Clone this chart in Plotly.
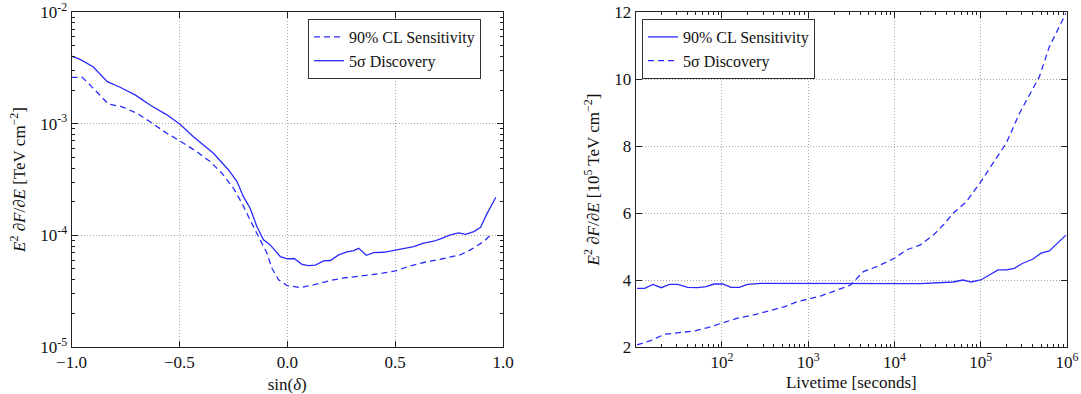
import plotly.graph_objects as go

# ---------------- Left panel: sensitivity vs declination ----------------
sin_dec_disc = [-1.0, -0.96, -0.90, -0.834, -0.775, -0.705, -0.636, -0.558, -0.497, -0.435,
                -0.342, -0.272, -0.233, -0.203, -0.172, -0.141, -0.110, -0.079, -0.032, 0.0,
                0.032, 0.068, 0.099, 0.130, 0.169, 0.200, 0.238, 0.277, 0.308, 0.331, 0.367,
                0.400, 0.447, 0.501, 0.532, 0.586, 0.632, 0.679, 0.710, 0.756, 0.795, 0.826,
                0.865, 0.896, 0.927, 0.967]
disc_5sigma = [4.03e-3, 3.77e-3, 3.24e-3, 2.38e-3, 2.12e-3, 1.81e-3, 1.47e-3, 1.20e-3, 9.9e-4, 7.65e-4,
               5.43e-4, 3.85e-4, 3.03e-4, 2.22e-4, 1.75e-4, 1.20e-4, 9.1e-5, 8.2e-5, 6.45e-5, 6.15e-5,
               6.2e-5, 5.5e-5, 5.35e-5, 5.4e-5, 5.9e-5, 5.95e-5, 6.68e-5, 7.1e-5, 7.3e-5, 7.65e-5, 6.63e-5,
               7.0e-5, 7.05e-5, 7.4e-5, 7.5e-5, 7.93e-5, 8.5e-5, 8.85e-5, 9.3e-5, 1.01e-4, 1.05e-4, 1.02e-4,
               1.08e-4, 1.18e-4, 1.58e-4, 2.19e-4]

sin_dec_sens = [-1.0, -0.95, -0.914, -0.868, -0.829, -0.767, -0.697, -0.636, -0.558, -0.497,
                -0.419, -0.357, -0.303, -0.249, -0.210, -0.172, -0.133, -0.094, -0.071, -0.040,
                0.0, 0.060, 0.122, 0.200, 0.261, 0.323, 0.385, 0.447, 0.501, 0.571, 0.648,
                0.725, 0.803, 0.849, 0.911, 0.950]
sens_90cl = [2.6e-3, 2.6e-3, 2.22e-3, 1.81e-3, 1.5e-3, 1.42e-3, 1.24e-3, 1.04e-3, 8.2e-4, 7.0e-4,
             5.6e-4, 4.57e-4, 3.6e-4, 2.64e-4, 1.94e-4, 1.37e-4, 9.7e-5, 6.9e-5, 5.07e-5, 3.99e-5,
             3.55e-5, 3.4e-5, 3.6e-5, 3.94e-5, 4.15e-5, 4.27e-5, 4.42e-5, 4.6e-5, 4.8e-5, 5.33e-5, 5.8e-5,
             6.2e-5, 6.7e-5, 7.4e-5, 8.8e-5, 1.04e-4]

# ---------------- Right panel: sensitivity vs livetime ----------------
log_livetime_sens = [1.016, 1.104, 1.2, 1.296, 1.392, 1.489, 1.604, 1.72, 1.815, 1.911, 2.008, 2.104,
                     2.2, 2.296, 2.45, 3.142, 3.6, 4.0, 4.3, 4.68, 4.795, 4.89, 5.0, 5.1, 5.2, 5.295,
                     5.39, 5.487, 5.6, 5.7, 5.795, 5.89, 5.987]
sens_livetime = [3.75, 3.75, 3.87, 3.77, 3.87, 3.87, 3.78, 3.77, 3.8, 3.88, 3.88, 3.78,
                 3.78, 3.87, 3.9, 3.9, 3.9, 3.9, 3.89, 3.94, 4.0, 3.94, 4.0, 4.15, 4.3, 4.3,
                 4.35, 4.5, 4.62, 4.8, 4.87, 5.1, 5.34]

log_livetime_disc = [1.016, 1.18, 1.335, 1.489, 1.68, 1.835, 2.008, 2.18, 2.37, 2.565, 2.72, 2.87,
                     3.142, 3.335, 3.49, 3.64, 3.795, 4.0, 4.14, 4.295, 4.45, 4.565, 4.68, 4.834,
                     4.93, 5.0, 5.14, 5.295, 5.45, 5.56, 5.68, 5.795, 5.89, 5.987]
disc_livetime = [2.06, 2.2, 2.38, 2.43, 2.48, 2.58, 2.71, 2.86, 2.96, 3.1, 3.2, 3.35,
                 3.52, 3.70, 3.85, 4.25, 4.4, 4.65, 4.9, 5.04, 5.34, 5.64, 5.99, 6.34,
                 6.69, 6.93, 7.48, 8.08, 8.98, 9.52, 10.07, 10.96, 11.46, 11.96]
livetime_sens = [10 ** v for v in log_livetime_sens]
livetime_disc = [10 ** v for v in log_livetime_disc]

left_ytick_vals = [1e-5, 1e-4, 1e-3, 1e-2]
left_ytick_text = ["10<sup>-5</sup>", "10<sup>-4</sup>", "10<sup>-3</sup>", "10<sup>-2</sup>"]
right_xtick_vals = [1e2, 1e3, 1e4, 1e5, 1e6]
right_xtick_text = ["10<sup>2</sup>", "10<sup>3</sup>", "10<sup>4</sup>", "10<sup>5</sup>", "10<sup>6</sup>"]

FONT = "Liberation Serif"
BLUE = "#2a2aff"
DASH = "6px,4px"

fig = go.Figure()
fig.add_trace(go.Scatter(x=sin_dec_sens, y=sens_90cl, mode="lines", name="90% CL Sensitivity",
                         line=dict(color=BLUE, width=1.3, dash=DASH), xaxis="x", yaxis="y", legend="legend"))
fig.add_trace(go.Scatter(x=sin_dec_disc, y=disc_5sigma, mode="lines", name="5σ Discovery",
                         line=dict(color=BLUE, width=1.3), xaxis="x", yaxis="y", legend="legend"))
fig.add_trace(go.Scatter(x=livetime_sens, y=sens_livetime, mode="lines", name="90% CL Sensitivity",
                         line=dict(color=BLUE, width=1.3), xaxis="x2", yaxis="y2", legend="legend2"))
fig.add_trace(go.Scatter(x=livetime_disc, y=disc_livetime, mode="lines", name="5σ Discovery",
                         line=dict(color=BLUE, width=1.3, dash=DASH), xaxis="x2", yaxis="y2", legend="legend2"))

W, H = 1081, 394
ML, MR, MT, MB = 0, 0, 12, 47
PH = H - MT - MB

def px_x(p):
    return p / W

axis_common = dict(showline=True, linecolor="#222", linewidth=1, mirror="allticks",
                   ticks="inside", ticklen=6, tickcolor="#222", tickwidth=1,
                   showgrid=True, gridcolor="#a8a8a8", griddash="1px,2px", gridwidth=1,
                   zeroline=False, automargin=False, ticklabeloverflow="allow",
                   tickfont=dict(family=FONT, size=17, color="#111"),
                   title_font=dict(family=FONT, size=17, color="#111"))

fig.update_layout(
    width=W, height=H, margin=dict(l=ML, r=MR, t=MT, b=MB),
    paper_bgcolor="white", plot_bgcolor="white",
    font=dict(family=FONT, size=16, color="#111"),
    xaxis=dict(domain=[px_x(71.5), px_x(503)], range=[-1, 1], dtick=0.5, tickformat=".1f",
               title=dict(text="sin(<i>δ</i>)", standoff=6), anchor="y", **axis_common),
    yaxis=dict(domain=[0, 1], type="log", range=[-5.0004, -1.9996], tickmode="array",
               tickvals=left_ytick_vals, ticktext=left_ytick_text,
               title=dict(text="<i>E</i><sup>2</sup> <i>∂F</i>/<i>∂E</i> [TeV cm<sup>−2</sup>]", standoff=10),
               minor=dict(ticks="inside", ticklen=3, tickcolor="#222", dtick="D1", showgrid=False),
               anchor="x", **axis_common),
    xaxis2=dict(domain=[px_x(635.7), px_x(1067)], type="log", range=[1.0, 6.0],
                tickmode="array", tickvals=right_xtick_vals, ticktext=right_xtick_text,
                minor=dict(ticks="inside", ticklen=3, tickcolor="#222", dtick="D1", showgrid=False),
                title=dict(text="Livetime [seconds]", standoff=4), anchor="y2", **axis_common),
    yaxis2=dict(domain=[0, 1], range=[2, 12], dtick=2,
                title=dict(text="<i>E</i><sup>2</sup> <i>∂F</i>/<i>∂E</i> [10<sup>5</sup> TeV cm<sup>−2</sup>]", standoff=10),
                anchor="x2", **axis_common),
    legend=dict(x=px_x(308), y=(H - MB - 19) / PH, xanchor="left", yanchor="top",
                bgcolor="white", bordercolor="#333", borderwidth=1,
                font=dict(family=FONT, size=16, color="#111"), tracegroupgap=0),
    legend2=dict(x=px_x(642), y=(H - MB - 19) / PH, xanchor="left", yanchor="top",
                 bgcolor="white", bordercolor="#333", borderwidth=1,
                 font=dict(family=FONT, size=16, color="#111"), tracegroupgap=0),
    showlegend=True,
)

fig.write_html("out.html", config={"displayModeBar": False},
               post_script="document.body.style.margin='0px';document.body.style.overflow='hidden';")
